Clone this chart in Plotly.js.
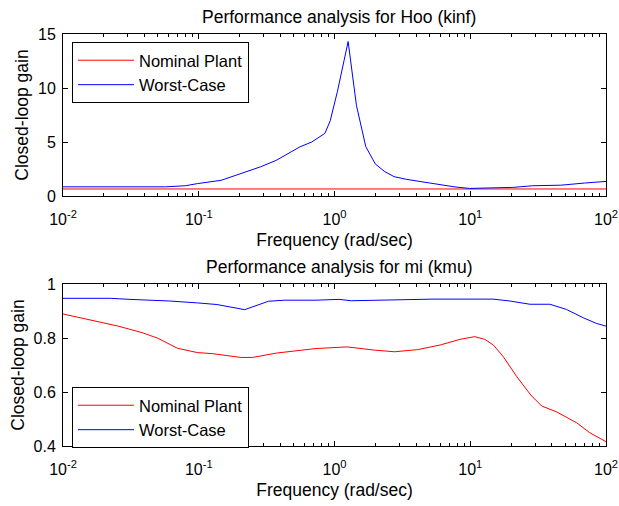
<!DOCTYPE html>
<html><head><meta charset="utf-8">
<script src="https://cdn.plot.ly/plotly-3.0.1.min.js"></script>
<style>body{margin:0;background:#fff}#chart{width:619px;height:506px}</style>
</head><body><div id="chart"></div>
<script>
// Top plot: H-infinity performance
const freqHooNom = [0.01, 100];
const gainHooNom = [0.65, 0.65];
const freqHooWC = [0.01, 0.057, 0.080, 0.098, 0.146, 0.19, 0.285, 0.372, 0.47, 0.556, 0.68, 0.78, 0.85, 0.93, 1.05, 1.26, 1.45, 1.7, 2.0, 2.35, 2.75, 3.4, 4.5, 7.6, 9.9, 13.7, 20.8, 28.8, 46.5, 69.5, 100];
const gainHooWC  = [0.85, 0.85, 0.95, 1.15, 1.45, 1.95, 2.7, 3.3, 4.0, 4.55, 5.0, 5.5, 5.8, 6.97, 9.66, 14.3, 8.4, 4.57, 2.96, 2.25, 1.79, 1.54, 1.28, 0.85, 0.7, 0.72, 0.8, 0.95, 1.0, 1.2, 1.35];
// Bottom plot: mu performance
const freqMuNom = [0.01, 0.0255, 0.0382, 0.05, 0.0697, 0.0977, 0.127, 0.204, 0.249, 0.372, 0.73, 1.24, 1.98, 2.77, 4.1, 6.0, 8.4, 10.8, 12.8, 14.8, 17.5, 22, 27.9, 33.6, 43, 60.8, 76, 100];
const gainMuNom  = [0.889, 0.844, 0.82, 0.799, 0.762, 0.746, 0.742, 0.728, 0.728, 0.744, 0.761, 0.767, 0.755, 0.749, 0.757, 0.774, 0.795, 0.805, 0.795, 0.774, 0.731, 0.657, 0.589, 0.548, 0.527, 0.486, 0.449, 0.416];
const freqMuWC = [0.01, 0.0223, 0.0312, 0.061, 0.0977, 0.136, 0.218, 0.326, 0.426, 0.73, 1.08, 1.33, 5.4, 14.7, 19.6, 27.5, 38.6, 51, 68, 85, 100];
const gainMuWC  = [0.947, 0.947, 0.943, 0.937, 0.93, 0.924, 0.905, 0.936, 0.94, 0.94, 0.943, 0.938, 0.944, 0.944, 0.937, 0.925, 0.925, 0.906, 0.875, 0.854, 0.844];

const xTickVals = [0.01, 0.1, 1, 10, 100];
const xTickText = ['10<sup>-2</sup>', '10<sup>-1</sup>', '10<sup>0</sup>', '10<sup>1</sup>', '10<sup>2</sup>'];
const yTopTicks = [0, 5, 10, 15];
const yBotTicks = [0.4, 0.6, 0.8, 1];
const yBotText = ['0.4', '0.6', '0.8', '1'];
const seriesNames = ['Nominal Plant', 'Worst-Case'];
const titles = ['Performance analysis for Hoo (kinf)', 'Performance analysis for mi (kmu)'];

const minorVals = [];
for (let e = -2; e < 2; e++) for (let k = 2; k <= 9; k++) minorVals.push(k * Math.pow(10, e));

const FONT = 'Liberation Sans, Arial, sans-serif';
const TICK = 16, TITLE = 17.5, LEG = 16.5;
const line = (c) => ({color: c, width: 1});

const traces = [
  {x: freqHooNom, y: gainHooNom, name: seriesNames[0], mode: 'lines', line: line('#ff0000'), xaxis: 'x', yaxis: 'y', legend: 'legend'},
  {x: freqHooWC, y: gainHooWC, name: seriesNames[1], mode: 'lines', line: line('#0000ff'), xaxis: 'x', yaxis: 'y', legend: 'legend'},
  {x: freqMuNom, y: gainMuNom, name: seriesNames[0], mode: 'lines', line: line('#ff0000'), xaxis: 'x2', yaxis: 'y2', legend: 'legend2'},
  {x: freqMuWC, y: gainMuWC, name: seriesNames[1], mode: 'lines', line: line('#0000ff'), xaxis: 'x2', yaxis: 'y2', legend: 'legend2'}
];

function xax(anchor) {
  return {
    type: 'log', range: [-2, 2], domain: [0, 1], anchor: anchor,
    tickmode: 'array', tickvals: xTickVals, ticktext: xTickText,
    ticks: 'inside', ticklen: 5, tickcolor: '#000', showgrid: false, zeroline: false,
    showline: true, linecolor: '#000', linewidth: 1, mirror: 'allticks',
    ticklabeloverflow: 'allow', ticklabelstandoff: 9,
    minor: {tickmode: 'array', tickvals: minorVals, ticks: 'inside', ticklen: 3, tickcolor: '#000', showgrid: false},
    tickfont: {family: FONT, size: TICK, color: '#000'},
    title: {text: 'Frequency (rad/sec)', font: {family: FONT, size: TITLE, color: '#000'}, standoff: 6}
  };
}
function yax(anchor, dom, range, vals, text) {
  const a = {
    domain: dom, range: range, anchor: anchor,
    tickmode: 'array', tickvals: vals,
    ticks: 'inside', ticklen: 5, tickcolor: '#000', showgrid: false, zeroline: false,
    showline: true, linecolor: '#000', linewidth: 1, mirror: 'allticks',
    ticklabeloverflow: 'allow', ticklabelstandoff: 3,
    tickfont: {family: FONT, size: TICK, color: '#000'},
    title: {text: 'Closed-loop gain', font: {family: FONT, size: TITLE, color: '#000'}, standoff: 4}
  };
  if (text) a.ticktext = text;
  return a;
}

const H = 506, PW = 543;
const legendCommon = {xanchor: 'left', yanchor: 'top', bgcolor: '#fff', bordercolor: '#000', borderwidth: 1, itemwidth: 56, font: {family: FONT, size: LEG, color: '#000'}};
const layout = {
  width: 619, height: 506,
  margin: {l: 63, r: 13, t: 0, b: 0},
  paper_bgcolor: '#fff', plot_bgcolor: '#fff',
  font: {family: FONT, size: TICK, color: '#000'},
  xaxis: xax('y'),
  yaxis: yax('x', [1 - 196 / H, 1 - 34 / H], [0, 15], yTopTicks),
  xaxis2: xax('y2'),
  yaxis2: yax('x2', [1 - 446 / H, 1 - 284 / H], [0.4, 1], yBotTicks, yBotText),
  legend: Object.assign({x: 9 / PW, y: 1 - 42 / H}, legendCommon),
  legend2: Object.assign({x: 9 / PW, y: 1 - 387 / H}, legendCommon),
  annotations: [
    {text: titles[0], xref: 'paper', yref: 'paper', x: 0.509, y: 1 - 17 / H, xanchor: 'center', yanchor: 'middle', showarrow: false, font: {family: FONT, size: TITLE, color: '#000'}},
    {text: titles[1], xref: 'paper', yref: 'paper', x: 0.509, y: 1 - 267 / H, xanchor: 'center', yanchor: 'middle', showarrow: false, font: {family: FONT, size: TITLE, color: '#000'}}
  ],
  showlegend: true
};

Plotly.newPlot('chart', traces, layout, {displayModeBar: false, staticPlot: true});
</script>
</body></html>
